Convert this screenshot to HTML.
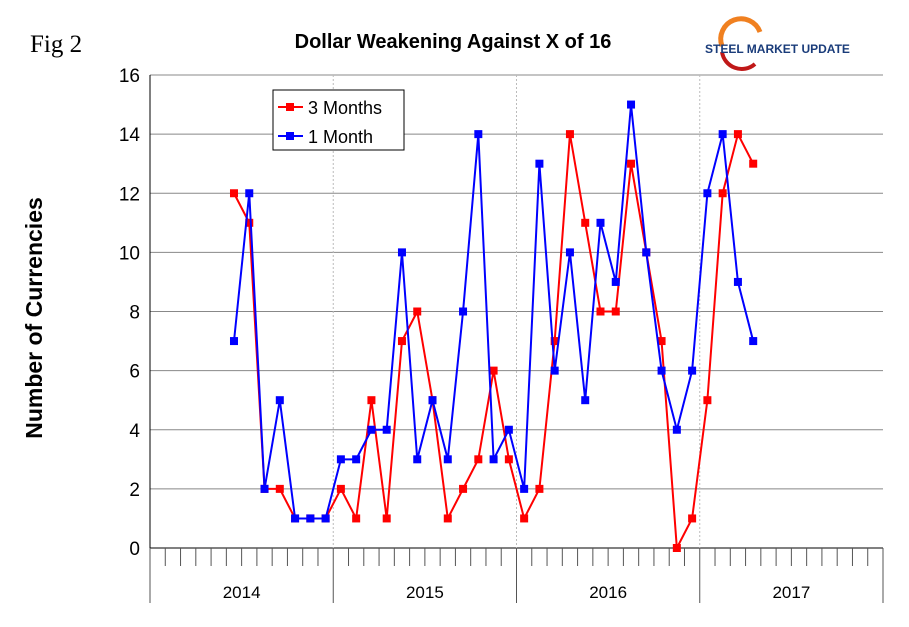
<!DOCTYPE html>
<html><head><meta charset="utf-8"><style>
body{margin:0;background:#fff;}
svg text{font-family:"Liberation Sans",sans-serif;}
</style></head><body>
<svg id="chart" width="909" height="622" viewBox="0 0 909 622" xmlns="http://www.w3.org/2000/svg">
<text x="30" y="52" font-size="25" style="font-family:'Liberation Serif',serif">Fig 2</text>
<text x="453" y="48" font-size="20" font-weight="bold" text-anchor="middle">Dollar Weakening Against X of 16</text>
<g>
<path d="M722 46 A20 20 0 0 1 760 32" stroke="#f08020" stroke-width="5" fill="none"/>
<path d="M722 52 A20 20 0 0 0 755 64" stroke="#c01818" stroke-width="4" fill="none"/>
<text x="705" y="53" font-size="12" font-weight="bold" fill="#1a3c7a">STEEL MARKET UPDATE</text>
</g>
<text transform="translate(42,318) rotate(-90)" font-size="23" font-weight="bold" text-anchor="middle">Number of Currencies</text>
<g id="grid"></g><g id="axes"></g><g id="series"></g>
<g>
<rect x="273" y="90" width="131" height="60" fill="#fff" stroke="#000" stroke-width="1"/>
<line x1="278" y1="107" x2="303" y2="107" stroke="#f00" stroke-width="2"/><rect x="286" y="103" width="8" height="8" fill="#f00"/>
<text x="308" y="114" font-size="18">3 Months</text>
<line x1="278" y1="136" x2="303" y2="136" stroke="#00f" stroke-width="2"/><rect x="286" y="132" width="8" height="8" fill="#00f"/>
<text x="308" y="143" font-size="18">1 Month</text>
</g>
</svg>
<script>
const years=["2014","2015","2016","2017"];
const yTicks=[0,2,4,6,8,10,12,14,16];
const startMonth=5;
const threeMonths=[12,11,2,2,1,1,1,2,1,5,1,7,8,5,1,2,3,6,3,1,2,7,14,11,8,8,13,10,7,0,1,5,12,14,13];
const oneMonth=[7,12,2,5,1,1,1,3,3,4,4,10,3,5,3,8,14,3,4,2,13,6,10,5,11,9,15,10,6,4,6,12,14,9,7];
const NS="http://www.w3.org/2000/svg";
const L=150,R=883,T=75,B=548,months=48;
const xs=i=>L+(i+0.5)*(R-L)/months;
const ys=v=>B-v*(B-T)/16;
function mk(p,tag,a){const e=document.createElementNS(NS,tag);for(const k in a)e.setAttribute(k,a[k]);p.appendChild(e);return e;}
const grid=document.getElementById('grid'),axes=document.getElementById('axes'),ser=document.getElementById('series');
yTicks.forEach(v=>{
 const l=mk(grid,'line',{x1:L,x2:R,y1:ys(v),y2:ys(v),stroke:v===0?'#000':'#888','stroke-width':1});
 
 
 const t=mk(axes,'text',{x:140,y:ys(v)+7,'font-size':19,'text-anchor':'end'});t.textContent=v;
 
 
});
mk(axes,'line',{x1:L,x2:L,y1:T,y2:B,stroke:'#000'});
for(let m=0;m<=months;m++){
 const x=L+m*(R-L)/months;
 const yr=m%12===0;
 mk(axes,'line',{x1:x,x2:x,y1:B,y2:yr?603:566,stroke:'#555'});
 if(yr&&m>0&&m<months)mk(grid,'line',{x1:x,x2:x,y1:T,y2:B,stroke:'#bbb','stroke-dasharray':'2,2'});
}
years.forEach((y,i)=>{
 const t=mk(axes,'text',{x:L+(i*12+6)*(R-L)/months,y:598,'font-size':17,'text-anchor':'middle'});t.textContent=y;
 
 
});
function draw(vals,col,name){
 const pts=vals.map((v,i)=>xs(startMonth+i)+','+ys(v)).join(' ');
 const pl=mk(ser,'polyline',{points:pts,fill:'none',stroke:col,'stroke-width':2});
 
 
 vals.forEach((v,i)=>{
  const r=mk(ser,'rect',{x:xs(startMonth+i)-4,y:ys(v)-4,width:8,height:8,fill:col});
  
  
 });
}
draw(threeMonths,'#f00','three-months');
draw(oneMonth,'#00f','one-month');
</script>
</body></html>
